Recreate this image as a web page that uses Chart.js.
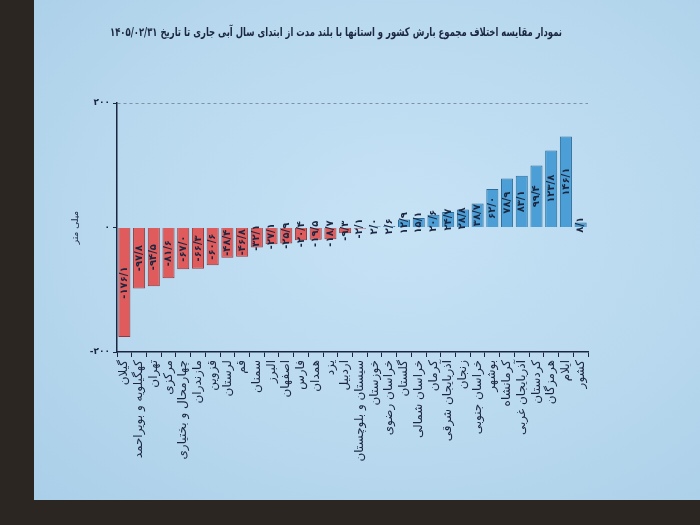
<!DOCTYPE html>
<html>
<head>
<meta charset="utf-8">
<script src="https://cdn.jsdelivr.net/npm/chart.js@4.4.1/dist/chart.umd.min.js"></script>
<style>
  body { margin: 0; background: #2c2623; }
  #wrap { position: relative; width: 700px; height: 525px; overflow: hidden; }
  #slide { position: absolute; left: 34px; top: 0; width: 666px; height: 500px;
    background: radial-gradient(ellipse at 55% 45%, #c6e2f5 0%, #b9d9ef 55%, #aacfe8 100%); }
  #myChart { position: absolute; left: 0; top: 0; }
</style>
</head>
<body>
<div id="wrap">
  <div id="slide"></div>
  <canvas id="myChart" width="700" height="525"></canvas>
</div>
<script>
// استان ها
var provinces = ['گیلان', 'کهگیلویه و بویراحمد', 'تهران', 'مرکزی', 'چهارمحال و بختیاری', 'مازندران',
  'قزوین', 'لرستان', 'قم', 'سمنان', 'البرز', 'اصفهان', 'فارس', 'همدان', 'یزد', 'اردبیل',
  'سیستان و بلوچستان', 'خوزستان', 'خراسان رضوی', 'گلستان', 'خراسان شمالی', 'کرمان',
  'آذربایجان شرقی', 'زنجان', 'خراسان جنوبی', 'بوشهر', 'کرمانشاه', 'آذربایجان غربی',
  'کردستان', 'هرمزگان', 'ایلام', 'کشور']

// اختلاف با بلند مدت (میلی متر)
var diffs = [-176.1, -97.8, -94.5, -81.6, -67.0, -66.3, -60.6, -48.4, -46.8, -32.1, -27.1, -25.9,
  -20.4, -19.5, -18.7, -9.3, -2.1, 2.0, 2.6, 12.9, 15.1, 20.6, 24.7, 28.8, 38.7, 62.0,
  78.9, 83.1, 99.4, 123.8, 146.1, 8.1]

var yTicks = [-200, 0, 200]

var title = 'نمودار مقایسه اختلاف مجموع بارش کشور و استانها با بلند مدت از ابتدای سال آبی جاری تا تاریخ ۱۴۰۵/۰۲/۳۱'

var txt = '#1b2740'
var fa = function (n, dec) {
  var s = dec ? Math.abs(n).toFixed(1).replace('.', '/') : String(Math.abs(n))
  s = s.replace(/[0-9]/g, function (d) { return '۰۱۲۳۴۵۶۷۸۹'[d] })
  return (n < 0 ? '-' : '') + s
}

var barLabels = {
  id: 'barLabels',
  afterDatasetsDraw: function (chart) {
    var c = chart.ctx
    chart.getDatasetMeta(0).data.forEach(function (bar, i) {
      c.save()
      c.translate(bar.x, (bar.y + bar.base) / 2)
      c.rotate(-Math.PI / 2)
      c.font = 'bold 10px "DejaVu Sans"'
      c.fillStyle = txt
      c.textAlign = 'center'
      c.textBaseline = 'middle'
      c.fillText(fa(diffs[i], true), 0, 0)
      c.restore()
    })
    // عنوان
    c.save()
    c.font = 'bold 12px "DejaVu Sans"'
    c.fillStyle = txt
    c.textAlign = 'center'
    c.textBaseline = 'middle'
    c.fillText(title, 336, 33, 452)
    c.restore()
  }
}

var ctx = document.getElementById('myChart')
var myChart = new Chart(ctx, {
  type: 'bar',
  data: {
    labels: provinces,
    datasets: [{
      data: diffs,
      backgroundColor: diffs.map(v => v < 0 ? '#e05b5b' : '#4c9fd6'),
      borderColor: diffs.map(v => v < 0 ? '#94393b' : '#2c6d99'),
      borderWidth: 1,
      categoryPercentage: 0.82,
      barPercentage: 1
    }]
  },
  options: {
    responsive: false,
    animation: false,
    layout: { padding: { left: 57, right: 112, top: 103, bottom: 0 } },
    plugins: {
      legend: { display: false },
      tooltip: { enabled: false },
      title: { display: false }
    },
    scales: {
      x: {
        afterFit: s => { s.height = 173 },
        ticks: { color: txt, autoSkip: false, maxRotation: 90, minRotation: 90,
          font: { family: 'DejaVu Sans', size: 12 } },
        grid: { display: true, drawOnChartArea: false, tickLength: 5, color: txt },
        border: { color: txt, width: 1.5 }
      },
      y: {
        min: -200,
        max: 200,
        afterFit: s => { s.width = 60 },
        afterBuildTicks: s => { s.ticks = yTicks.map(v => ({ value: v })) },
        ticks: { color: txt, font: { family: 'DejaVu Sans', size: 9, weight: 'bold' },
          callback: v => fa(v, false) },
        grid: {
          color: c => c.tick && c.tick.value === 200 ? '#7f92a3' : 'rgba(0,0,0,0)',
          tickColor: txt, tickLength: 4, lineWidth: 1
        },
        border: { color: txt, width: 1.5, dash: [3, 3] },
        title: { display: true, text: 'میلی متر', color: txt, padding: { top: 13, bottom: 0 },
          font: { family: 'DejaVu Sans', size: 9 } }
      }
    }
  },
  plugins: [barLabels]
})
</script>
</body>
</html>
